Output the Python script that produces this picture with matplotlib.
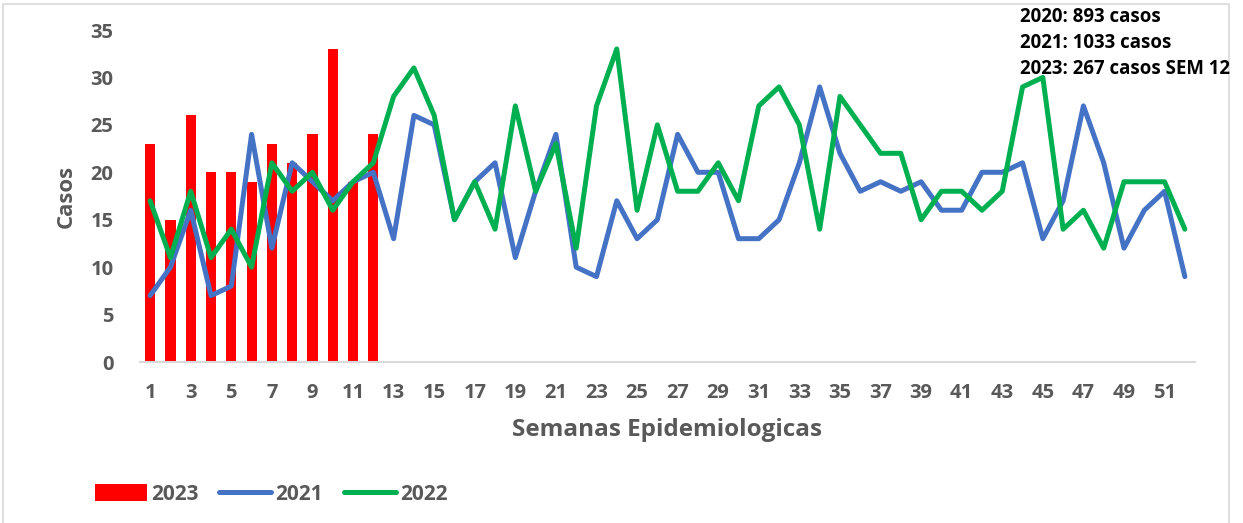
import numpy as np
import matplotlib
matplotlib.use("Agg")
import matplotlib.pyplot as plt
from matplotlib.patches import Rectangle

plt.rcParams["font.family"] = ["Open Sans", "DejaVu Sans"]

# semanas epidemiologicas
weeks = list(range(1, 53))
weeks_2023 = list(range(1, 13))

casos_2023 = [23, 15, 26, 20, 20, 19, 23, 21, 24, 33, 19, 24]
casos_2021 = [7, 10, 16, 7, 8, 24, 12, 21, 19, 17, 19, 20,
              13, 26, 25, 15, 19, 21, 11, 18, 24, 10, 9, 17,
              13, 15, 24, 20, 20, 13, 13, 15, 21, 29, 22, 18,
              19, 18, 19, 16, 16, 20, 20, 21, 13, 17, 27, 21,
              12, 16, 18, 9]
casos_2022 = [17, 11, 18, 11, 14, 10, 21, 18, 20, 16, 19, 21,
              28, 31, 26, 15, 19, 14, 27, 18, 23, 12, 27, 33,
              16, 25, 18, 18, 21, 17, 27, 29, 25, 14, 28, 25,
              22, 22, 15, 18, 18, 16, 18, 29, 30, 14, 16, 12,
              19, 19, 19, 14]
xtick_labels = [str(w) for w in range(1, 53, 2)]
nota = ["2020: 893 casos", "2021: 1033 casos", "2023: 267 casos SEM 12"]

GRAY = "#595959"

fig = plt.figure(figsize=(12.43, 5.23), dpi=100)
ax = fig.add_axes([140 / 1243, 1 - 362 / 523, 1055 / 1243, 332 / 523])

b = ax.bar(weeks_2023, casos_2023, width=0.5, color="#FF0000", label="2023", zorder=2)
l1, = ax.plot(weeks, casos_2021, color="#4472C4", lw=3.6, label="2021",
              solid_joinstyle="round", solid_capstyle="round", zorder=3)
l2, = ax.plot(weeks, casos_2022, color="#00B050", lw=3.6, label="2022",
              solid_joinstyle="round", solid_capstyle="round", zorder=4)

ax.set_xlim(0.5, 52.5)
ax.set_ylim(0, 35)
ax.set_yticks(range(0, 36, 5))
ax.set_xticks(range(1, 53, 2))
ax.set_xticklabels(xtick_labels)
ax.tick_params(length=0, labelsize=14.5, labelcolor=GRAY)
ax.tick_params(axis="y", pad=19)
ax.tick_params(axis="x", pad=15)
for lbl in ax.get_xticklabels() + ax.get_yticklabels():
    lbl.set_fontweight("bold")

for s in ["top", "right", "left"]:
    ax.spines[s].set_visible(False)
ax.spines["bottom"].set_color("#D9D9D9")
ax.spines["bottom"].set_linewidth(1.5)

ax.set_ylabel("Casos", fontsize=16, fontweight="bold", color=GRAY, labelpad=10)
ax.set_xlabel("Semanas Epidemiologicas", fontsize=17.5, fontweight="bold",
              color=GRAY, labelpad=11)

for i, t in enumerate(nota):
    fig.text(1020 / 1243, 1 - (17 + 26 * i) / 523, t, fontsize=13.4,
             fontweight="bold", color="black", va="center", ha="left")

leg = fig.legend([b, l1, l2], ["2023", "2021", "2022"], loc="center",
                 bbox_to_anchor=(271 / 1243, 1 - 494 / 523),
                 ncol=3, frameon=False, fontsize=15, handlelength=2.5,
                 handleheight=0.9, columnspacing=1.0, handletextpad=0.2)
for t in leg.get_texts():
    t.set_fontweight("bold")
    t.set_color(GRAY)

fig.patches.append(Rectangle((3 / 1243, -0.01), 1226 / 1243, 1.01 - 4 / 523,
                             transform=fig.transFigure, fill=False,
                             edgecolor="#D9D9D9", lw=1.2))

fig.savefig("out.png", dpi=100)
